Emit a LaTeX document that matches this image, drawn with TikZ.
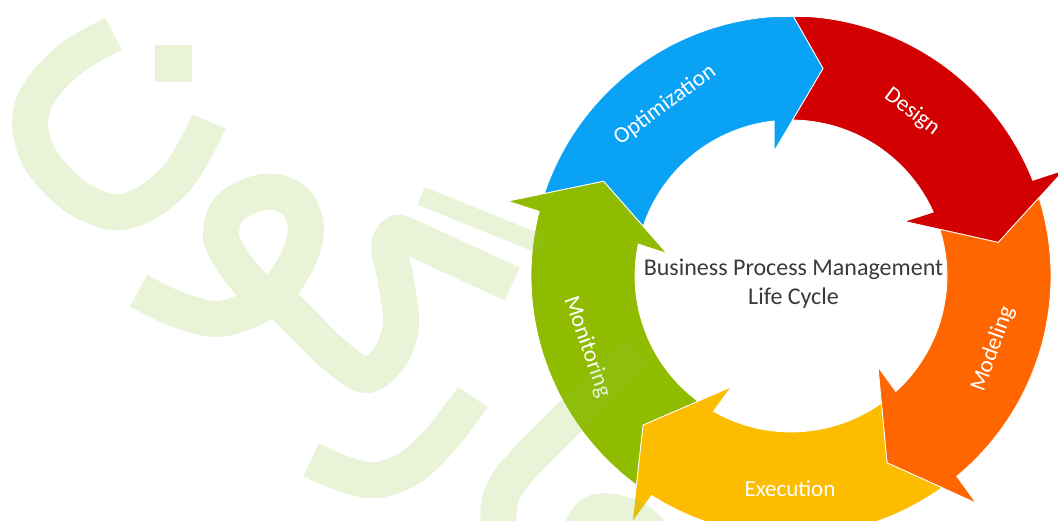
\documentclass[tikz,border=0pt]{standalone}
\usepackage{fontspec}
\setmainfont{Carlito}
\definecolor{cblue}{RGB}{10,162,245}
\definecolor{cred}{RGB}{210,0,0}
\definecolor{corange}{RGB}{255,102,0}
\definecolor{cyellow}{RGB}{252,189,0}
\definecolor{cgreen}{RGB}{143,188,0}
\definecolor{wmgreen}{RGB}{140,195,60}
\definecolor{txtgray}{RGB}{58,58,58}
\newcommand\cycseg[2]{%
  \filldraw[segstyle, fill=#1]
    ({#2+80.2}:156) -- ({#2+72}:210) -- ({#2+80.3}:260)
    arc[start angle={#2+80.3}, end angle={#2+12.4}, radius=260]
    -- ({#2+12}:293) -- (#2:210) -- ({#2+16.5}:126) -- ({#2+15}:156)
    arc[start angle={#2+15}, end angle={#2+80.2}, radius=156] -- cycle;}
\tikzset{
  segstyle/.style={draw=white, line width=0.8bp, line join=miter},
  lab/.style={text=white, inner sep=0pt, font=\fontsize{23bp}{27bp}\selectfont},
  wm/.style={draw=wmgreen, draw opacity=0.2, line width=36bp, line cap=butt, line join=round},
}
\begin{document}
\begin{tikzpicture}[x=1bp,y=-1bp]
\useasboundingbox (0,0) rectangle (1058,521);
\clip (0,0) rectangle (1058,521);
\fill[white] (0,0) rectangle (1058,521);
% cycle
\begin{scope}
  \clip (0,18) rectangle (1058,521);
  \begin{scope}[shift={(791,276)}, yscale=-1]
    \cycseg{cblue}{81.2}
    \cycseg{cred}{9.2}
    \cycseg{corange}{-62.8}
    \cycseg{cyellow}{-134.8}
    \cycseg{cgreen}{153.2}
  \end{scope}
\end{scope}
% labels
\node[lab, rotate=36.4] (opt) at (665,105) {Optimization};
\node[lab, rotate=-37] (des) at (912,112) {Design};
\node[lab, rotate=70.1] (mod) at (993,349) {Modeling};
\node[lab] (exe) at (790,489) {Execution};
\node[lab, rotate=-70.8] (mon) at (587,347) {Monitoring};
\node[align=center, text=txtgray, inner sep=0pt, font=\fontsize{24bp}{29bp}\selectfont] (title) at (793.5,284) {Business Process Management\\Life Cycle};
% watermark
\draw[wm]
  plot[smooth, tension=0.55] coordinates {(113.3,33.8) (76.1,54.8) (50.0,78.4) (33.8,103.1) (30.4,128.5) (38.9,157.2) (59.2,182.6) (82.8,201.2) (114.3,212.3) (143.7,204.5) (175.8,179.2) (199.5,141.3) (208.9,121.7)}
  plot[smooth, tension=0.55] coordinates {(138.6,290.7) (176,309) (216,319) (250,310) (272,298)}
  plot[smooth, tension=0.55] coordinates {(272,302) (250,283) (232,260) (221,236) (228,210) (252,195) (276,192) (297,203) (306,228) (300,255) (286,280) (268,302)}
  plot[smooth, tension=0.55] coordinates {(268,290) (297,318) (331,352) (365,375) (389,358) (401,325) (396,281) (389,247) (397,233) (412,238)} -- (512.2,284)
  plot[smooth, tension=0.55] coordinates {(311,460) (347,475) (377,480) (410,468) (440,440) (465,408) (473,397)}
  plot[smooth, tension=0.55] coordinates {(637,350) (610,377) (570,417) (530,457) (510,480) (500,500) (498,530)}
  plot[smooth, tension=0.55] coordinates {(578,535) (592,514) (613,512) (640,522) (662,545)};
\draw[wm, line width=19bp] (421,196) -- (545,246);
\fill[wmgreen, fill opacity=0.2] (155,45) rectangle (192,82);
\end{tikzpicture}
\end{document}
